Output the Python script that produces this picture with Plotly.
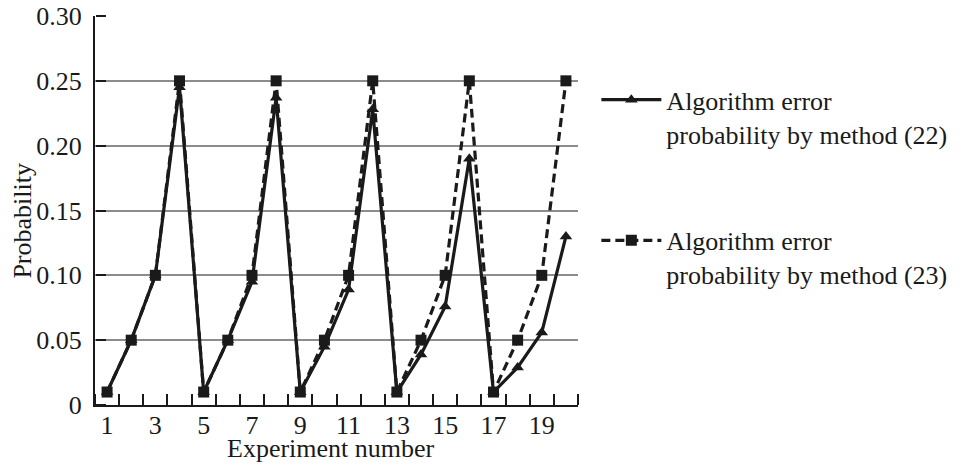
import plotly.graph_objects as go

experiments = list(range(1, 21))
prob_method22 = [0.01, 0.05, 0.10, 0.245, 0.01, 0.05, 0.095, 0.237, 0.01, 0.045,
                 0.089, 0.228, 0.01, 0.039, 0.076, 0.19, 0.01, 0.029, 0.056, 0.13]
prob_method23 = [0.01, 0.05, 0.10, 0.25, 0.01, 0.05, 0.10, 0.25, 0.01, 0.05,
                 0.10, 0.25, 0.01, 0.05, 0.10, 0.25, 0.01, 0.05, 0.10, 0.25]
x_tick_vals = [1, 3, 5, 7, 9, 11, 13, 15, 17, 19]
x_boundary_ticks = [i + 0.5 for i in range(0, 21)]
y_tick_vals = [0, 0.05, 0.10, 0.15, 0.20, 0.25, 0.30]
y_tick_text = ["0", "0.05", "0.10", "0.15", "0.20", "0.25", "0.30"]
name22 = "Algorithm error<br>probability by method (22)"
name23 = "Algorithm error<br>probability by method (23)"

FONT = "Liberation Serif"
X_RANGE = [0.5, 20.5]
Y_RANGE = [0, 0.30]
INK = "#1a1a1a"

fig = go.Figure()
fig.add_trace(go.Scatter(
    x=experiments, y=prob_method22, name=name22, mode="lines+markers",
    legendgroup="a", xaxis="x", yaxis="y",
    line=dict(color=INK, width=3.2),
    marker=dict(symbol="triangle-up", size=11, color=INK),
))
fig.add_trace(go.Scatter(
    x=experiments, y=prob_method23, name=name23, mode="lines+markers",
    legendgroup="b", xaxis="x2", yaxis="y2",
    line=dict(color=INK, width=3.2, dash="9px,5px"),
    marker=dict(symbol="square", size=11, color=INK),
))

fig.update_layout(
    width=966, height=469,
    margin=dict(l=95, r=388, t=16, b=64),
    paper_bgcolor="white", plot_bgcolor="white",
    font=dict(family=FONT, size=26, color=INK),
    showlegend=True,
    legend=dict(
        x=1.038, y=0.845, xanchor="left", yanchor="top",
        valign="top", tracegroupgap=70, itemwidth=60,
        font=dict(family=FONT, size=26, color=INK),
        bgcolor="rgba(0,0,0,0)",
    ),
    # labelled experiment numbers on the bottom axis line
    xaxis=dict(
        range=X_RANGE, automargin=False,
        tickmode="array", tickvals=x_tick_vals, ticks="",
        ticklabelstandoff=-4,
        showgrid=False, zeroline=False,
        showline=True, linecolor=INK, linewidth=2,
        tickfont=dict(family=FONT, size=26),
    ),
    # boundary ticks between experiments, pointing up into the plot
    xaxis2=dict(
        range=X_RANGE, matches="x", overlaying="x", anchor="free", position=0,
        side="top", automargin=False,
        tickmode="array", tickvals=x_boundary_ticks,
        ticks="outside", ticklen=11, tickwidth=2, tickcolor=INK,
        showticklabels=False, showgrid=False, zeroline=False, showline=False,
    ),
    yaxis=dict(
        range=Y_RANGE, automargin=False,
        tickmode="array", tickvals=y_tick_vals, ticktext=y_tick_text,
        ticks="", ticklabelstandoff=6,
        showgrid=True, gridcolor="#8c8c8c", gridwidth=2,
        zeroline=False,
        showline=True, linecolor=INK, linewidth=2,
        tickfont=dict(family=FONT, size=26),
    ),
    # tick stubs on the left axis, pointing right into the plot
    yaxis2=dict(
        range=Y_RANGE, matches="y", overlaying="y", anchor="free", position=0,
        side="right", automargin=False,
        tickmode="array", tickvals=y_tick_vals,
        ticks="outside", ticklen=10, tickwidth=2, tickcolor=INK,
        showticklabels=False, showgrid=False, zeroline=False, showline=False,
    ),
    annotations=[
        dict(
            text="Probability", textangle=-90,
            xref="paper", yref="paper", x=-0.152, y=0.473,
            xanchor="center", yanchor="middle", showarrow=False,
            font=dict(family=FONT, size=26, color=INK),
        ),
        dict(
            text="Experiment number",
            xref="paper", yref="paper", x=0.4886, y=-0.112,
            xanchor="center", yanchor="middle", showarrow=False,
            font=dict(family=FONT, size=26, color=INK),
        ),
    ],
)

fig.write_html("out.html")
